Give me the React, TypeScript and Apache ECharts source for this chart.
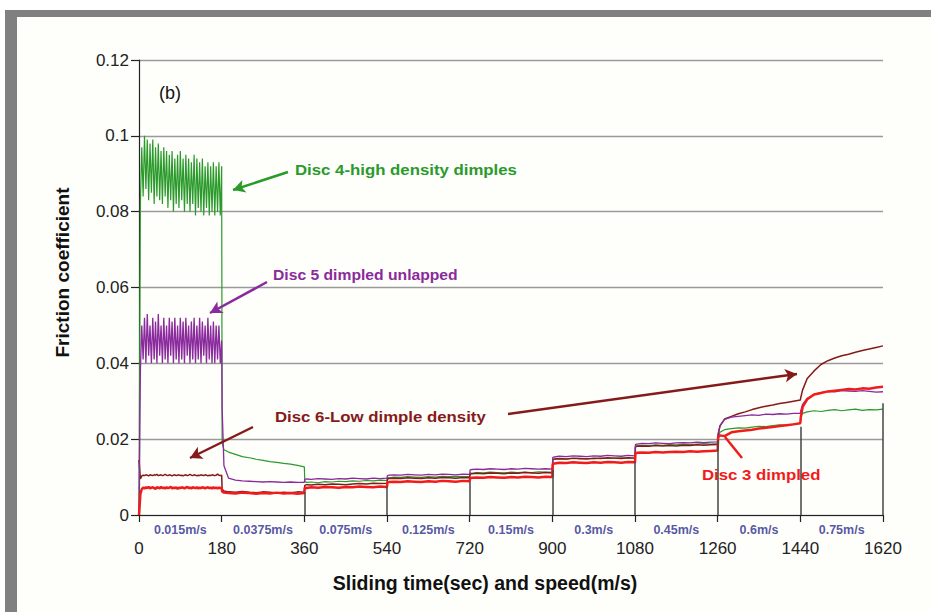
import React, { useEffect, useRef } from "react";
import * as echarts from "echarts";

// ---- time grid (seconds) ----
const timeHead = [
  0, 3, 6, 9, 12, 15, 18, 21, 24, 27, 30, 33, 36, 39, 42, 45, 48, 51, 54, 57,
  60, 63, 66, 69, 72, 75, 78, 81, 84, 87, 90, 93, 96, 99, 102, 105, 108, 111, 114, 117,
  120, 123, 126, 129, 132, 135, 138, 141, 144, 147, 150, 153, 156, 159, 162, 165, 168, 171, 174, 177,
  180,
];
const timeTail = [
  181, 185, 195, 210, 225, 240, 255, 270, 285, 300, 315, 330, 345, 360,
  361, 365, 375, 390, 405, 420, 435, 450, 465, 480, 495, 510, 525, 540,
  541, 545, 555, 570, 585, 600, 615, 630, 645, 660, 675, 690, 705, 720,
  721, 725, 735, 750, 765, 780, 795, 810, 825, 840, 855, 870, 885, 900,
  901, 905, 915, 930, 945, 960, 975, 990, 1005, 1020, 1035, 1050, 1065, 1080,
  1081, 1085, 1095, 1110, 1125, 1140, 1155, 1170, 1185, 1200, 1215, 1230, 1245, 1260,
  1261, 1265, 1275, 1290, 1305, 1320, 1335, 1350, 1365, 1380, 1395, 1410, 1425, 1440,
  1441, 1445, 1455, 1470, 1485, 1500, 1515, 1530, 1545, 1560, 1575, 1590, 1605, 1620,
];

// ---- Disc 4 (green) ----
const disc4Head = [
  0, 0.082, 0.097, 0.084, 0.1, 0.086, 0.099, 0.083, 0.098, 0.085,
  0.099, 0.082, 0.097, 0.084, 0.098, 0.083, 0.096, 0.082, 0.097, 0.084,
  0.096, 0.081, 0.095, 0.083, 0.096, 0.08, 0.094, 0.082, 0.095, 0.081,
  0.096, 0.083, 0.094, 0.08, 0.095, 0.082, 0.094, 0.08, 0.093, 0.082,
  0.095, 0.079, 0.094, 0.081, 0.093, 0.08, 0.094, 0.079, 0.092, 0.081,
  0.093, 0.079, 0.092, 0.08, 0.093, 0.079, 0.092, 0.08, 0.093, 0.079,
  0.092,
];
const disc4Tail = [
  0.019, 0.0172, 0.0166, 0.016, 0.0154, 0.0151, 0.0147, 0.0144, 0.0141, 0.0139, 0.0136, 0.0134, 0.0131, 0.0127,
  0.0088, 0.0086, 0.0087, 0.0085, 0.0088, 0.0087, 0.0089, 0.0088, 0.009, 0.0089, 0.0091, 0.009, 0.0092, 0.0091,
  0.0099, 0.0098, 0.01, 0.0099, 0.0101, 0.01, 0.0099, 0.0101, 0.01, 0.0102, 0.0101, 0.0102, 0.0101, 0.0102,
  0.0111, 0.011, 0.0112, 0.0111, 0.0113, 0.0112, 0.0111, 0.0113, 0.0112, 0.0113, 0.0112, 0.0114, 0.0113, 0.0113,
  0.0146, 0.0147, 0.0148, 0.0147, 0.0149, 0.0148, 0.0149, 0.0148, 0.015, 0.0149, 0.015, 0.0151, 0.015, 0.0151,
  0.0182, 0.0183, 0.0184, 0.0183, 0.0185, 0.0184, 0.0186, 0.0185, 0.0187, 0.0186, 0.0187, 0.0188, 0.0187, 0.0188,
  0.0205, 0.0218, 0.0225, 0.0228, 0.023, 0.0229, 0.0232, 0.0234, 0.0233, 0.0236, 0.0238, 0.0237, 0.024, 0.0242,
  0.026, 0.0268, 0.0272, 0.0275, 0.0273, 0.0276, 0.0278, 0.0275, 0.0277, 0.0279, 0.0276, 0.0278, 0.0277, 0.0279,
];

// ---- Disc 5 (purple) ----
const disc5Head = [
  0, 0.038, 0.05, 0.041, 0.052, 0.04, 0.053, 0.042, 0.05, 0.04,
  0.052, 0.041, 0.051, 0.04, 0.053, 0.042, 0.05, 0.04, 0.052, 0.041,
  0.05, 0.04, 0.052, 0.042, 0.051, 0.04, 0.052, 0.041, 0.05, 0.04,
  0.052, 0.041, 0.051, 0.04, 0.052, 0.042, 0.05, 0.04, 0.051, 0.041,
  0.052, 0.04, 0.05, 0.041, 0.052, 0.04, 0.051, 0.042, 0.05, 0.04,
  0.052, 0.041, 0.05, 0.04, 0.051, 0.04, 0.05, 0.041, 0.05, 0.04,
  0.046,
];
const disc5Tail = [
  0.028, 0.013, 0.0097, 0.0092, 0.009, 0.0089, 0.0088, 0.0087, 0.0088, 0.0087, 0.0086, 0.0087, 0.0086, 0.0086,
  0.0094, 0.0095, 0.0094, 0.0096, 0.0095, 0.0094, 0.0096, 0.0095, 0.0097, 0.0096, 0.0095, 0.0097, 0.0096, 0.0097,
  0.0104, 0.0105, 0.0106, 0.0105, 0.0107, 0.0106, 0.0105, 0.0107, 0.0106, 0.0108, 0.0107, 0.0106, 0.0108, 0.0107,
  0.0119, 0.012, 0.0121, 0.012, 0.0122, 0.0121, 0.012, 0.0122, 0.0121, 0.0123, 0.0122, 0.0121, 0.0122, 0.0121,
  0.0152, 0.0153, 0.0155, 0.0154, 0.0156, 0.0155, 0.0154, 0.0156, 0.0155, 0.0157, 0.0156, 0.0155, 0.0157, 0.0156,
  0.0186, 0.0187, 0.0189, 0.0188, 0.019, 0.0189, 0.0188, 0.019, 0.0191, 0.019, 0.0192, 0.0191, 0.0192, 0.0193,
  0.0215, 0.0235, 0.0252, 0.0258, 0.026, 0.0262, 0.0264, 0.0263, 0.0266, 0.0265, 0.0267, 0.0266, 0.0268, 0.0268,
  0.0275, 0.0292, 0.0308, 0.0318, 0.0323, 0.0326, 0.0325, 0.0328, 0.0327, 0.0326, 0.0328, 0.0326, 0.0324, 0.0325,
];

// ---- Disc 6 (dark red) ----
const disc6Head = [
  0.0145, 0.0095, 0.0103, 0.0105, 0.0104, 0.0106, 0.0105, 0.0103, 0.0106, 0.0105,
  0.0104, 0.0106, 0.0105, 0.0107, 0.0104, 0.0105, 0.0106, 0.0104, 0.0105, 0.0107,
  0.0105, 0.0104, 0.0106, 0.0105, 0.0103, 0.0105, 0.0106, 0.0104, 0.0105, 0.0106,
  0.0104, 0.0105, 0.0103, 0.0105, 0.0106, 0.0104, 0.0105, 0.0107, 0.0105, 0.0104,
  0.0106, 0.0105, 0.0103, 0.0105, 0.0104, 0.0106, 0.0105, 0.0104, 0.0106, 0.0105,
  0.0103, 0.0105, 0.0104, 0.0106, 0.0105, 0.0104, 0.0105, 0.0108, 0.0105, 0.0104,
  0.0105,
];
const disc6Tail = [
  0.0068, 0.0063, 0.0061, 0.006, 0.0062, 0.006, 0.0059, 0.0061, 0.006, 0.0058, 0.006, 0.0059, 0.0061, 0.006,
  0.0078, 0.008, 0.0079, 0.0081, 0.008, 0.0082, 0.0081, 0.008, 0.0082, 0.0083, 0.0082, 0.0084, 0.0083, 0.0084,
  0.0095, 0.0096, 0.0097, 0.0096, 0.0098, 0.0097, 0.0096, 0.0098, 0.0097, 0.0099, 0.0098, 0.0097, 0.0099, 0.0098,
  0.0108, 0.0109, 0.011, 0.0109, 0.0111, 0.011, 0.0109, 0.0111, 0.011, 0.0112, 0.0111, 0.011, 0.0112, 0.0111,
  0.0146, 0.0148, 0.0149, 0.0148, 0.015, 0.0149, 0.0148, 0.015, 0.0149, 0.0151, 0.015, 0.0149, 0.0151, 0.015,
  0.018, 0.0181, 0.0182, 0.0181, 0.0183, 0.0182, 0.0183, 0.0182, 0.0184, 0.0183, 0.0185, 0.0184, 0.0185, 0.0186,
  0.021, 0.0235, 0.0253, 0.026, 0.0267, 0.0272, 0.0278, 0.0283, 0.0287, 0.029, 0.0294, 0.0297, 0.03, 0.0303,
  0.031, 0.033, 0.036, 0.038, 0.0397, 0.0407, 0.0414, 0.042, 0.0424, 0.0429, 0.0434, 0.0438, 0.0442, 0.0446,
];

// ---- Disc 3 (red) ----
const disc3Head = [
  0, 0.0055, 0.0068, 0.0072, 0.007, 0.0073, 0.0071, 0.0074, 0.007, 0.0072,
  0.0073, 0.0071, 0.0069, 0.0073, 0.0072, 0.007, 0.0074, 0.0071, 0.0072, 0.007,
  0.0073, 0.0071, 0.0072, 0.0074, 0.007, 0.0072, 0.0071, 0.0073, 0.0069, 0.0072,
  0.0071, 0.0073, 0.0072, 0.007, 0.0072, 0.0074, 0.0071, 0.0072, 0.007, 0.0073,
  0.0072, 0.0071, 0.0073, 0.007, 0.0072, 0.0071, 0.0073, 0.0072, 0.007, 0.0072,
  0.0073, 0.0071, 0.0072, 0.007, 0.0073, 0.0071, 0.0072, 0.007, 0.0072, 0.0071,
  0.0072,
];
const disc3Tail = [
  0.0062, 0.0059, 0.0058, 0.0057, 0.0059, 0.0058, 0.0056, 0.0058, 0.0057, 0.0059, 0.0057, 0.0058, 0.0056, 0.0058,
  0.0072, 0.0071, 0.0073, 0.0072, 0.0074, 0.0073, 0.0072, 0.0074, 0.0073, 0.0075, 0.0074, 0.0073, 0.0075, 0.0074,
  0.0086, 0.0087, 0.0088, 0.0087, 0.0089, 0.0088, 0.0087, 0.0089, 0.0088, 0.009, 0.0089, 0.0088, 0.009, 0.0089,
  0.0097, 0.0098, 0.0099, 0.0098, 0.01, 0.0099, 0.0098, 0.01, 0.0099, 0.0101, 0.01, 0.0099, 0.0101, 0.01,
  0.0134, 0.0136, 0.0138, 0.0137, 0.0139, 0.0138, 0.0137, 0.0139, 0.0138, 0.014, 0.0139, 0.0138, 0.014, 0.0139,
  0.0163, 0.0164, 0.0165, 0.0164, 0.0166, 0.0165, 0.0166, 0.0167, 0.0166, 0.0168, 0.0167, 0.0168, 0.0169, 0.017,
  0.0205, 0.021, 0.0208, 0.0218, 0.0221, 0.0223, 0.0225, 0.0228, 0.023, 0.0232, 0.0235, 0.0237, 0.0239, 0.0242,
  0.0258, 0.0285, 0.0305, 0.0318, 0.0322, 0.0326, 0.0328, 0.033, 0.0332, 0.0331, 0.0334, 0.0333, 0.0336, 0.0338,
];

// ---- step drop lines at segment ends ----
const dropTimes = [360, 540, 720, 900, 1080, 1260, 1440, 1620];
const dropTops = [0.006, 0.0075, 0.0088, 0.0119, 0.014, 0.0198, 0.0233, 0.0295];

// ---- speed labels per 180 s segment ----
const speedMid = [90, 270, 450, 630, 810, 990, 1170, 1350, 1530];
const speedLabels = ["0.015m/s", "0.0375m/s", "0.075m/s", "0.125m/s", "0.15m/s", "0.3m/s", "0.45m/s", "0.6m/s", "0.75m/s"];

const GREEN = "#2a9a2a";
const PURPLE = "#8a2a9c";
const DARKRED = "#861a1a";
const RED = "#f01c1c";
const BLUE = "#2a2a8c";

const times = [...timeHead, ...timeTail];
const mk = (head: number[], tail: number[]) => {
  const v = [...head, ...tail];
  return times.map((t, i) => [t, v[i]]);
};

export default function App() {
  const ref = useRef<HTMLDivElement>(null);
  useEffect(() => {
    if (!ref.current) return;
    const chart = echarts.init(ref.current, undefined, { renderer: "svg" });
    const sans = '"Liberation Sans", Arial, sans-serif';
    const arrow = (x1: number, y1: number, x2: number, y2: number, color: string, head = true) => [
      { x: x1, y: y1, symbol: "none" },
      { x: x2, y: y2, symbol: head ? "arrow" : "none", lineStyle: { color, width: 2.5 } },
    ];
    const note = (text: string, x: number, y: number, size: number, color: string) => ({
      type: "text",
      x,
      y,
      scaleX: 1.12,
      style: { text, font: `bold ${size}px ${sans}`, fill: color, verticalAlign: "middle", align: "left" },
    });
    const option: any = {
      animation: false,
      backgroundColor: "#ffffff",
      grid: { left: 139, right: 48, top: 60, bottom: 97, containLabel: false },
      xAxis: {
        type: "value",
        min: 0,
        max: 1620,
        interval: 180,
        axisLine: { show: true, onZero: false, lineStyle: { color: "#222", width: 1.2 } },
        axisTick: { show: true, length: 7, lineStyle: { color: "#222", width: 1.2 } },
        axisLabel: { margin: 25, fontFamily: sans, fontSize: 17, color: "#222", formatter: (v: number) => String(v) },
        splitLine: { show: false },
        name: "Sliding time(sec) and speed(m/s)",
        nameLocation: "middle",
        nameGap: 58,
        nameTextStyle: { fontFamily: sans, fontWeight: "bold", fontSize: 19.5, color: "#111", padding: [0, 52, 0, 0] },
      },
      yAxis: {
        type: "value",
        min: 0,
        max: 0.12,
        interval: 0.02,
        axisLine: { show: true, lineStyle: { color: "#222", width: 1.2 } },
        axisTick: { show: true, length: 8, lineStyle: { color: "#222", width: 1.2 } },
        axisLabel: { margin: 10, fontFamily: sans, fontSize: 17, color: "#222" },
        splitLine: { show: true, lineStyle: { color: "#9a9a9a", width: 1.3 } },
        name: "Friction coefficient",
        nameLocation: "middle",
        nameGap: 67,
        nameTextStyle: { fontFamily: sans, fontWeight: "bold", fontSize: 19, color: "#111", padding: [0, 0, 0, 30] },
      },
      graphic: [
        { type: "rect", z: -100, shape: { x: 5, y: 10, width: 926, height: 602 }, style: { fill: "#808080" }, silent: true },
        { type: "rect", z: -99, shape: { x: 17, y: 17, width: 914, height: 595 }, style: { fill: "#fefefb" }, silent: true },
        { type: "text", left: 159, top: 84, style: { text: "(b)", font: `18px ${sans}`, fill: "#111" } },
        note("Disc 4-high density dimples", 295, 170, 15, GREEN),
        note("Disc 5 dimpled unlapped", 273, 275, 14, PURPLE),
        note("Disc 6-Low dimple density", 275, 417, 15, DARKRED),
        note("Disc 3 dimpled", 702, 475, 15, RED),
      ],
      series: [
        {
          type: "scatter",
          name: "speeds",
          symbolSize: 0,
          clip: false,
          silent: true,
          z: 1,
          data: speedMid.map((t, i) => ({ value: [t, 0], label: { formatter: speedLabels[i] } })),
          label: {
            show: true,
            position: "bottom",
            distance: 8,
            fontFamily: sans,
            fontWeight: "bold",
            fontSize: 12.5,
            color: BLUE,
          },
          markLine: {
            silent: true,
            symbol: "none",
            label: { show: false },
            lineStyle: { color: "#444", width: 1.5, type: "solid" },
            data: dropTimes.map((t, i) => [{ coord: [t, 0] }, { coord: [t, dropTops[i]] }]),
          },
        },
        { type: "line", name: "Disc 4", data: mk(disc4Head, disc4Tail), showSymbol: false, symbol: "none", lineStyle: { color: GREEN, width: 1.2 }, itemStyle: { color: GREEN }, z: 3 },
        { type: "line", name: "Disc 6", data: mk(disc6Head, disc6Tail), showSymbol: false, symbol: "none", lineStyle: { color: DARKRED, width: 1.5 }, itemStyle: { color: DARKRED }, z: 3 },
        { type: "line", name: "Disc 5", data: mk(disc5Head, disc5Tail), showSymbol: false, symbol: "none", lineStyle: { color: PURPLE, width: 1.3 }, itemStyle: { color: PURPLE }, z: 3 },
        {
          type: "line",
          name: "Disc 3",
          data: mk(disc3Head, disc3Tail),
          showSymbol: false,
          symbol: "none",
          lineStyle: { color: RED, width: 2.5 },
          itemStyle: { color: RED },
          z: 4,
          markLine: {
            silent: true,
            symbolSize: [10, 12],
            label: { show: false },
            lineStyle: { width: 2.5, type: "solid" },
            data: [
              arrow(288, 172, 233, 190, GREEN),
              arrow(267, 282, 210, 313, PURPLE),
              arrow(253, 427, 190, 458, DARKRED),
              arrow(508, 414, 797, 374, DARKRED),
              arrow(742, 458, 725, 437, RED, false),
            ],
          },
        },
      ],
    };
    chart.setOption(option);
    return () => chart.dispose();
  }, []);
  return <div ref={ref} style={{ position: "fixed", left: 0, top: 0, width: 931, height: 612 }} />;
}
